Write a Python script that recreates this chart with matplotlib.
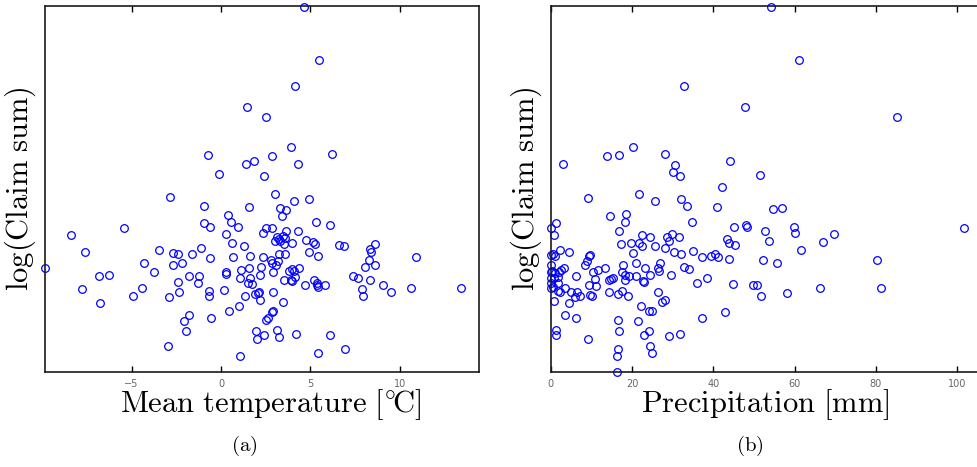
import matplotlib
matplotlib.use("Agg")
import matplotlib.pyplot as plt

plt.rcParams['mathtext.fontset'] = 'cm'

# (a) mean temperature [C] vs log(claim sum)
temp = [1.47, -0.71, -0.10, 1.42, -2.85, 4.66, 5.50, 4.16, 2.53, 3.90,
        2.87, 1.86, 6.19, 4.31, 2.39, 3.01, 4.06, 4.92, -0.95, 1.54,
        0.41, 0.56, -0.97, -0.60, 0.95, -5.41, -8.38, 0.30, 0.63, 1.27,
        -7.59, -3.45, -1.12, -2.67, -2.42, -1.64, 0.65, -0.60, 1.62, -9.83,
        -4.29, -2.67, -2.17, -3.73, 1.12, 1.59, 0.30, 0.30, -6.84, -6.28,
        -1.81, -1.21, 1.08, 1.64, -2.42, -1.30, 1.51, 1.72, -7.76, -4.42,
        0.17, -0.69, -2.33, -4.92, -2.93, -0.69, 1.34, -6.75, 0.98, -1.77,
        -2.05, 0.43, -0.56, -1.98, -2.97, 1.04, 3.32, 3.62, 3.43, 5.32,
        6.08, 2.35, 2.50, 2.87, 3.65, 4.29, 3.13, 3.25, 3.47, 3.60,
        3.04, 3.30, 3.54, 3.99, 4.77, 5.13, 5.26, 6.60, 6.88, 8.63,
        8.34, 8.41, 2.33, 3.25, 3.60, 4.91, 5.41, 10.93, 8.30, 8.62,
        8.04, 2.80, 2.87, 3.06, 3.21, 2.26, 2.91, 2.20, 3.79, 4.07,
        3.99, 4.36, 4.16, 3.90, 3.96, 3.54, 5.20, 5.39, 5.41, 5.36,
        5.80, 4.68, 7.40, 7.67, 8.32, 9.05, 7.87, 7.96, 9.50, 10.62,
        13.41, 2.91, 2.13, 2.05, 1.90, 2.17, 3.49, 2.87, 2.93, 2.63,
        2.52, 1.96, 2.03, 2.42, 3.12, 3.23, 4.20, 6.10, 6.92, 5.44]
claim_a = [12.65, 12.17, 11.98, 12.08, 11.75, 13.65, 13.12, 12.86, 12.55, 12.25,
           12.16, 12.11, 12.18, 12.08, 11.96, 11.78, 11.71, 11.73, 11.66, 11.65,
           11.57, 11.50, 11.49, 11.45, 11.45, 11.44, 11.37, 11.38, 11.29, 11.26,
           11.20, 11.22, 11.24, 11.19, 11.18, 11.18, 11.15, 11.14, 11.16, 11.04,
           11.09, 11.07, 11.09, 11.00, 11.02, 11.04, 11.00, 10.98, 10.96, 10.97,
           10.96, 10.96, 10.94, 10.94, 10.90, 10.89, 10.89, 10.88, 10.83, 10.84,
           10.82, 10.81, 10.80, 10.76, 10.75, 10.76, 10.76, 10.69, 10.66, 10.57,
           10.51, 10.61, 10.54, 10.41, 10.26, 10.16, 11.64, 11.62, 11.56, 11.50,
           11.47, 11.39, 11.44, 11.44, 11.41, 11.41, 11.35, 11.33, 11.36, 11.34,
           11.31, 11.31, 11.28, 11.29, 11.32, 11.30, 11.28, 11.27, 11.26, 11.28,
           11.23, 11.20, 11.15, 11.18, 11.18, 11.20, 11.16, 11.15, 11.12, 11.07,
           11.05, 11.12, 11.09, 11.07, 11.11, 11.05, 11.00, 10.97, 11.01, 11.01,
           11.03, 11.04, 10.95, 10.92, 10.91, 10.92, 10.92, 10.89, 10.85, 10.87,
           10.87, 10.87, 10.96, 10.94, 10.92, 10.87, 10.83, 10.76, 10.80, 10.84,
           10.84, 10.80, 10.80, 10.79, 10.78, 10.72, 10.70, 10.60, 10.61, 10.54,
           10.52, 10.41, 10.33, 10.37, 10.42, 10.35, 10.38, 10.37, 10.23, 10.19]

# (b) precipitation [mm] vs log(claim sum)
precip = [32.8, 47.9, 3.0, 13.9, 16.9, 20.2, 28.2, 30.6, 30.1, 31.9,
          44.2, 42.1, 9.1, 21.7, 25.7, 32.0, 54.2, 61.1, 85.1, 51.6,
          33.5, 41.0, 14.6, 18.6, 18.3, 16.8, 34.7, 48.0, 48.4, 45.2,
          0.1, 1.3, 0.7, 22.5, 24.5, 28.7, 29.0, 29.9, 31.5, 21.7,
          19.8, 17.4, 22.5, 25.6, 28.1, 43.4, 43.8, 45.3, 4.4, 2.4,
          0.6, 1.1, 0.1, 20.3, 30.3, 32.0, 35.1, 37.1, 39.5, 40.3,
          41.1, 43.8, 0.1, 9.4, 9.7, 9.0, 8.4, 21.0, 27.0, 17.7,
          23.1, 26.5, 26.6, 32.7, 33.9, 2.6, 3.2, 0.0, 0.4, 1.0,
          2.0, 10.5, 11.7, 13.3, 17.5, 18.3, 19.2, 21.1, 24.4, 29.7,
          38.4, 0.0, 0.7, 1.7, 6.3, 11.0, 14.4, 14.8, 15.3, 18.3,
          22.8, 23.0, 0.0, 1.9, 0.6, 0.0, 1.9, 2.4, 3.4, 9.4,
          11.1, 17.5, 35.9, 44.9, 4.9, 6.4, 6.0, 7.1, 9.6, 10.1,
          14.4, 16.6, 19.1, 26.4, 0.7, 4.6, 6.3, 3.5, 22.3, 27.4,
          28.1, 24.2, 25.0, 21.5, 16.5, 16.9, 22.9, 24.1, 29.2, 31.7,
          37.2, 42.9, 1.3, 1.3, 9.2, 16.6, 16.3, 24.5, 24.8, 16.2,
          54.8, 57.0, 52.8, 59.8, 60.1, 69.8, 53.7, 67.0, 61.5, 101.7,
          52.2, 55.6, 80.2, 49.7, 50.7, 51.8, 58.1, 66.3, 81.2]
claim_b = [12.86, 12.65, 12.08, 12.16, 12.17, 12.25, 12.18, 12.07, 12.00, 11.96,
           12.11, 11.85, 11.74, 11.78, 11.71, 11.73, 13.65, 13.12, 12.55, 11.97,
           11.66, 11.65, 11.56, 11.58, 11.50, 11.41, 11.50, 11.47, 11.45, 11.45,
           11.44, 11.49, 11.37, 11.37, 11.35, 11.35, 11.31, 11.38, 11.35, 11.29,
           11.29, 11.28, 11.26, 11.26, 11.24, 11.33, 11.29, 11.27, 11.20, 11.22,
           11.18, 11.16, 11.17, 11.19, 11.20, 11.18, 11.21, 11.15, 11.16, 11.18,
           11.15, 11.13, 11.07, 11.16, 11.17, 11.11, 11.07, 11.09, 11.09, 11.07,
           11.04, 11.04, 11.01, 11.05, 11.03, 11.02, 11.04, 11.00, 11.01, 10.99,
           11.00, 11.00, 11.02, 11.04, 11.00, 10.97, 10.96, 10.96, 10.97, 10.97,
           10.94, 10.94, 10.94, 10.95, 10.96, 10.93, 10.92, 10.93, 10.94, 10.92,
           10.91, 10.90, 10.89, 10.89, 10.85, 10.84, 10.81, 10.80, 10.84, 10.87,
           10.86, 10.81, 10.89, 10.88, 10.80, 10.80, 10.75, 10.76, 10.77, 10.76,
           10.80, 10.78, 10.76, 10.80, 10.71, 10.69, 10.54, 10.57, 10.66, 10.70,
           10.72, 10.61, 10.61, 10.51, 10.52, 10.41, 10.37, 10.41, 10.36, 10.38,
           10.54, 10.60, 10.42, 10.37, 10.33, 10.23, 10.16, 10.26, 10.19, 10.00,
           11.63, 11.64, 11.41, 11.45, 11.39, 11.38, 11.31, 11.30, 11.22, 11.44,
           11.12, 11.09, 11.12, 10.87, 10.87, 10.76, 10.79, 10.84, 10.84]

temp_ticks = [-5, 0, 5, 10]
precip_ticks = [0, 20, 40, 60, 80, 100]


def style_axes(ax, xlabel, xticks):
    ax.set_xticks(xticks)
    ax.set_yticks([])
    ax.tick_params(axis='x', direction='in', top=True, length=4, width=1,
                   labelsize=7, labelcolor='#666666', pad=5)
    for spine in ax.spines.values():
        spine.set_linewidth(1.2)
        spine.set_color('#1a1a1a')
    ax.set_xlabel(xlabel, fontsize=22, labelpad=-1)
    ax.set_ylabel(r'$\mathrm{log(Claim\ sum)}$', fontsize=22, labelpad=5)


fig = plt.figure(figsize=(9.77, 4.67), dpi=100)

ax1 = fig.add_axes([45 / 977, 95 / 467, 434 / 977, 366 / 467])
ax1.plot(temp, claim_a, 'o', mfc='none', mec='b', ms=5.5, mew=0.9, clip_on=False)
ax1.set_xlim(-9.85, 14.44)
ax1.set_ylim(10.0, 13.66)
style_axes(ax1, r'$\mathrm{Mean\ temperature\ [{}^{\circ}\,\!\!C]}$', temp_ticks)
ax1.xaxis.label.set_x(0.52)

ax2 = fig.add_axes([550.7 / 977, 95 / 467, 429.3 / 977, 366 / 467])
ax2.plot(precip, claim_b, 'o', mfc='none', mec='b', ms=5.5, mew=0.9, clip_on=False)
ax2.set_xlim(0, 105.6)
ax2.set_ylim(10.0, 13.66)
style_axes(ax2, r'$\mathrm{Precipitation\ [mm]}$', precip_ticks)

fig.text(244 / 977, 1 - 446 / 467, r'$\mathrm{(a)}$', fontsize=15, ha='center', va='center')
fig.text(750 / 977, 1 - 446 / 467, r'$\mathrm{(b)}$', fontsize=15, ha='center', va='center')

fig.savefig('out.png', dpi=100)
